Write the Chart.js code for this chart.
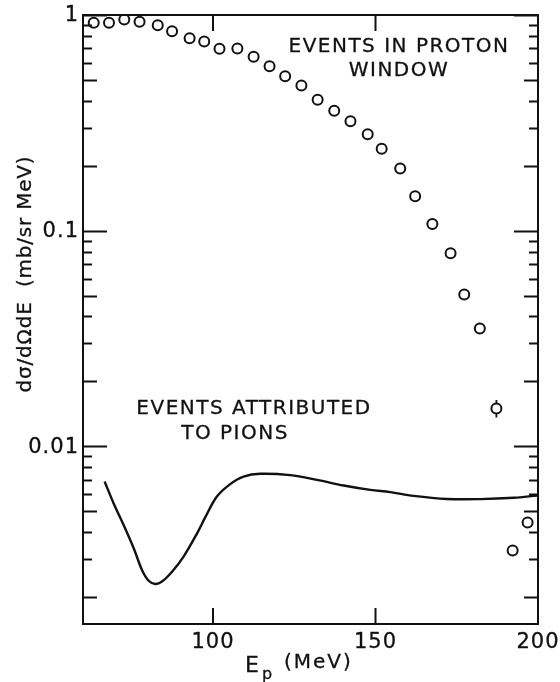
<!DOCTYPE html>
<html lang="en">
<head>
<meta charset="UTF-8">
<title>Proton and pion spectra</title>
<script src="https://cdn.jsdelivr.net/npm/chart.js"></script>
<style>
  html, body { margin: 0; padding: 0; background: #fff; }
</style>
</head>
<body>
<canvas id="spectrum" width="560" height="682"></canvas>
<script>
// events in proton window (open circles), E in MeV, cross section in mb/sr MeV
const protonE = [63.3, 68.0, 72.7, 77.4, 83.0, 87.4, 92.8, 97.3, 102.0, 107.5, 112.5, 117.4, 122.2, 127.2,
                 132.2, 137.3, 142.3, 147.6, 151.9, 157.6, 162.2, 167.5, 173.1, 177.3, 182.1, 187.2, 192.2, 196.8];
const protonXs = [0.92, 0.92, 0.953, 0.93, 0.897, 0.841, 0.78, 0.753, 0.697, 0.699, 0.64, 0.579, 0.52, 0.471,
                  0.405, 0.36, 0.322, 0.28, 0.24, 0.194, 0.1445, 0.1074, 0.0785, 0.0506, 0.0352, 0.01497, 0.00329, 0.00443];

// error bar drawn on one point
const errE = [187.2];
const errLow = [0.0136];
const errHigh = [0.0164];

// events attributed to pions (solid curve)
const pionE = [66.65, 69.4, 72.5, 75.6, 78.15, 80.2, 82.25, 84.3, 87.4, 90.95, 95.1, 97.6, 101.2, 105.3,
               109.4, 114.55, 123.8, 132.0, 140.2, 148.4, 154.55, 161.7, 172.0, 182.25, 192.5, 199.7];
const pionXs = [0.00687, 0.00545, 0.00432, 0.00337, 0.00267, 0.00238, 0.0023, 0.00236, 0.00262, 0.00308,
                0.00395, 0.00468, 0.00585, 0.00668, 0.00724, 0.00746, 0.00735, 0.00699, 0.00658, 0.00628,
                0.00613, 0.00589, 0.0057, 0.00569, 0.00577, 0.00591];

const xTicks = [100, 150, 200];
const xTickLabels = ['100', '150', '200'];
const yTicks = [1, 0.1, 0.01];
const yTickLabels = ['1', '0.1', '0.01'];

const INK = '#111';
const FONT = '"DejaVu Sans", sans-serif';

// filled text with a thin outline so the lettering reads a little heavier
function ink(ctx, text, x, y) {
  ctx.fillText(text, x, y);
  ctx.strokeText(text, x, y);
}

// frame, inward ticks, labels and captions
const framePlugin = {
  id: 'frame',
  afterDatasetsDraw(chart) {
    const { ctx, chartArea: a, scales: { x, y } } = chart;
    ctx.save();
    ctx.strokeStyle = INK;
    ctx.fillStyle = INK;

    // error bars
    ctx.lineWidth = 1.8;
    errE.forEach((e, i) => {
      const px = x.getPixelForValue(e);
      const lo = y.getPixelForValue(errLow[i]);
      const hi = y.getPixelForValue(errHigh[i]);
      const p = y.getPixelForValue(protonXs[protonE.indexOf(e)]);
      ctx.beginPath();
      ctx.moveTo(px, hi); ctx.lineTo(px, p - 5);
      ctx.moveTo(px, p + 5); ctx.lineTo(px, lo);
      ctx.stroke();
    });

    ctx.lineWidth = 2;
    ctx.strokeRect(a.left, a.top, a.right - a.left, a.bottom - a.top);

    // x ticks, top and bottom
    xTicks.forEach(v => {
      const px = x.getPixelForValue(v);
      if (px >= a.right - 1) return;
      ctx.beginPath();
      ctx.moveTo(px, a.bottom); ctx.lineTo(px, a.bottom - 16);
      ctx.moveTo(px, a.top); ctx.lineTo(px, a.top + 16);
      ctx.stroke();
    });

    // y ticks, left and right (log decades with 2..9 minors)
    const yMin = y.min, yMax = y.max;
    for (let d = -3; d <= 0; d++) {
      for (let m = 1; m <= 9; m++) {
        const v = m * Math.pow(10, d);
        if (v < yMin * 0.999 || v > yMax * 1.001) continue;
        const py = Math.round(y.getPixelForValue(v)) + 0.5;
        const len = m === 1 ? 24 : (m === 2 || m === 5 ? 14 : 9);
        ctx.beginPath();
        ctx.moveTo(a.left, py); ctx.lineTo(a.left + len, py);
        ctx.moveTo(a.right, py); ctx.lineTo(a.right - len, py);
        ctx.stroke();
      }
    }

    ctx.lineWidth = 0.3;
    ctx.lineJoin = 'round';

    // tick labels
    ctx.font = '21px ' + FONT;
    ctx.letterSpacing = '1px';
    ctx.textAlign = 'center';
    ctx.textBaseline = 'alphabetic';
    xTicks.forEach((v, i) => {
      ink(ctx, xTickLabels[i], x.getPixelForValue(v), a.bottom + 24);
    });
    ctx.textAlign = 'right';
    ctx.textBaseline = 'middle';
    yTicks.forEach((v, i) => {
      ink(ctx, yTickLabels[i], a.left - 4, y.getPixelForValue(v) + 1);
    });

    // x title: E_p (MeV)
    ctx.textAlign = 'left';
    ctx.textBaseline = 'alphabetic';
    ctx.letterSpacing = '0px';
    ctx.font = '22px ' + FONT;
    ink(ctx, 'E', 245, 672);
    ctx.font = '16px ' + FONT;
    ink(ctx, 'p', 262, 679);
    ctx.font = '20px ' + FONT;
    ctx.letterSpacing = '2px';
    ink(ctx, '(MeV)', 284, 668);

    // y title
    ctx.save();
    ctx.translate(26, 274);
    ctx.rotate(-Math.PI / 2);
    ctx.textAlign = 'center';
    ctx.textBaseline = 'middle';
    ctx.letterSpacing = '0.8px';
    ctx.font = '20px ' + FONT;
    ink(ctx, 'd\u03c3/d\u03a9dE  (mb/sr MeV)', 0, 0);
    ctx.restore();

    // captions
    ctx.font = '20px ' + FONT;
    ctx.letterSpacing = '1.5px';
    ctx.textAlign = 'center';
    ctx.textBaseline = 'middle';
    ink(ctx, 'EVENTS IN PROTON', 399, 47);
    ink(ctx, 'WINDOW', 399, 71);
    ink(ctx, 'EVENTS ATTRIBUTED', 254, 409);
    ink(ctx, 'TO PIONS', 235, 434);
    ctx.restore();
  }
};

new Chart(document.getElementById('spectrum'), {
  type: 'scatter',
  data: {
    datasets: [
      {
        label: 'Events in proton window',
        data: protonE.map((e, i) => ({ x: e, y: protonXs[i] })),
        showLine: false,
        pointStyle: 'circle',
        pointRadius: 5,
        pointBorderWidth: 2,
        pointBorderColor: INK,
        pointBackgroundColor: 'rgba(255,255,255,0)'
      },
      {
        label: 'Events attributed to pions',
        data: pionE.map((e, i) => ({ x: e, y: pionXs[i] })),
        showLine: true,
        borderColor: INK,
        borderWidth: 2.4,
        pointRadius: 0,
        tension: 0.35
      }
    ]
  },
  options: {
    responsive: false,
    animation: false,
    layout: { padding: { left: 83, right: 22, top: 15, bottom: 58 } },
    plugins: { legend: { display: false }, tooltip: { enabled: false } },
    scales: {
      x: { type: 'linear', min: 60, max: 200, display: false },
      y: { type: 'logarithmic', min: 0.0015, max: 1, display: false }
    }
  },
  plugins: [framePlugin]
});
</script>
</body>
</html>
